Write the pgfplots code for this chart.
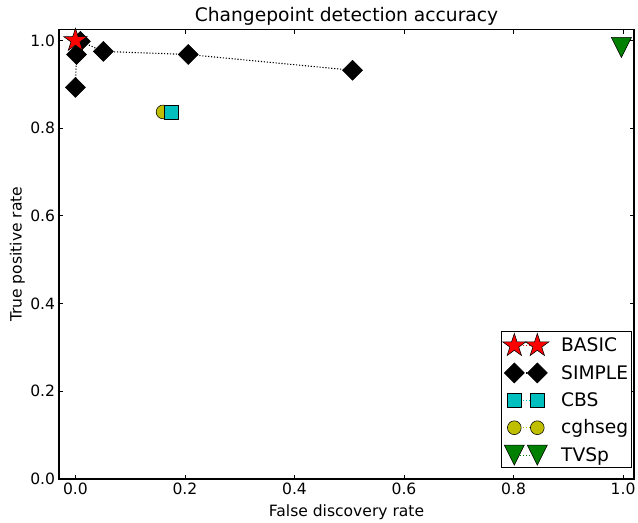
\documentclass[border=0pt]{standalone}
\usepackage{fontspec}
\setmainfont{DejaVu Sans}
\usepackage{pgfplots}
\pgfplotsset{compat=1.18}
\usetikzlibrary{plotmarks}
\definecolor{mplc}{rgb}{0,0.75,0.75}
\definecolor{mply}{rgb}{0.75,0.75,0}
\definecolor{mplg}{rgb}{0,0.5,0}
\pgfdeclareplotmark{fstar}{%
 \pgfpathmoveto{\pgfqpoint{0pt}{\pgfplotmarksize}}%
 \pgfpathlineto{\pgfqpoint{-0.2245\pgfplotmarksize}{0.309\pgfplotmarksize}}%
 \pgfpathlineto{\pgfqpoint{-0.951\pgfplotmarksize}{0.309\pgfplotmarksize}}%
 \pgfpathlineto{\pgfqpoint{-0.363\pgfplotmarksize}{-0.118\pgfplotmarksize}}%
 \pgfpathlineto{\pgfqpoint{-0.588\pgfplotmarksize}{-0.809\pgfplotmarksize}}%
 \pgfpathlineto{\pgfqpoint{0pt}{-0.382\pgfplotmarksize}}%
 \pgfpathlineto{\pgfqpoint{0.588\pgfplotmarksize}{-0.809\pgfplotmarksize}}%
 \pgfpathlineto{\pgfqpoint{0.363\pgfplotmarksize}{-0.118\pgfplotmarksize}}%
 \pgfpathlineto{\pgfqpoint{0.951\pgfplotmarksize}{0.309\pgfplotmarksize}}%
 \pgfpathlineto{\pgfqpoint{0.2245\pgfplotmarksize}{0.309\pgfplotmarksize}}%
 \pgfpathclose\pgfusepathqfillstroke}
\pgfdeclareplotmark{mdiamond}{%
 \pgfpathmoveto{\pgfqpoint{0pt}{\pgfplotmarksize}}%
 \pgfpathlineto{\pgfqpoint{\pgfplotmarksize}{0pt}}%
 \pgfpathlineto{\pgfqpoint{0pt}{-\pgfplotmarksize}}%
 \pgfpathlineto{\pgfqpoint{-\pgfplotmarksize}{0pt}}%
 \pgfpathclose\pgfusepathqfillstroke}
\pgfdeclareplotmark{tridown}{%
 \pgfpathmoveto{\pgfqpoint{0pt}{-\pgfplotmarksize}}%
 \pgfpathlineto{\pgfqpoint{\pgfplotmarksize}{\pgfplotmarksize}}%
 \pgfpathlineto{\pgfqpoint{-\pgfplotmarksize}{\pgfplotmarksize}}%
 \pgfpathclose\pgfusepathqfillstroke}
\pgfplotsset{
  mplline/.style={line width=1pt, dash pattern=on 1pt off 1.65pt},
  basicst/.style={mplline, color=red, mark=fstar, mark size=11pt, mark options={solid, draw=black, fill=red, line width=0.5pt}},
  simplest/.style={mplline, color=black, mark=mdiamond, mark size=9pt, mark options={solid, draw=black, fill=black, line width=0.5pt}},
  cbsst/.style={mplline, color=mplc, mark=square*, mark size=6.2pt, mark options={solid, draw=black, fill=mplc, line width=0.5pt}},
  cghst/.style={mplline, color=mply, mark=*, mark size=6.2pt, mark options={solid, draw=black, fill=mply, line width=0.5pt}},
  tvspst/.style={mplline, color=mplg, mark=tridown, mark size=9pt, mark options={solid, draw=black, fill=mplg, line width=0.5pt}},
}
\begin{document}
\begin{tikzpicture}
\useasboundingbox (-53.1pt,-39.6pt) rectangle (521.1pt,431.05pt);
\begin{axis}[
  at={(0,0)}, anchor=south west,
  scale only axis, width=517.5pt, height=404.5pt,
  xmin=-0.03, xmax=1.02, ymin=0, ymax=1.025,
  xtick={0,0.2,0.4,0.6,0.8,1.0}, ytick={0,0.2,0.4,0.6,0.8,1.0},
  tick align=inside, major tick length=4pt,
  every tick/.style={black, line width=0.8pt},
  axis line style={line width=1pt},
  ticklabel style={font=\fontsize{14}{16}\selectfont, /pgf/number format/.cd, fixed, fixed zerofill, precision=1},
  /pgf/number format/assume math mode=true,
  title={Changepoint detection accuracy},
  title style={font=\fontsize{16.8}{19}\selectfont, yshift=-5.5pt},
  xlabel={False discovery rate}, ylabel={True positive rate},
  label style={font=\fontsize{14}{16}\selectfont},
  xlabel style={yshift=-2.5pt},
  ylabel style={yshift=-2pt},
  legend style={at={(0.9965,0.0245)}, anchor=south east, draw=black, line width=0.9pt,
    font=\fontsize{16.8}{19}\selectfont, row sep=6.6pt, inner xsep=1pt, inner ysep=2pt,
    /tikz/every odd column/.append style={column sep=9pt}},
  legend cell align=left,
  legend image code/.code={\draw[#1] plot coordinates {(0pt,0pt) (20.7pt,0pt)};},
]
\addlegendimage{basicst}\addlegendentry{BASIC}
\addlegendimage{simplest}\addlegendentry{SIMPLE}
\addlegendimage{cbsst}\addlegendentry{CBS}
\addlegendimage{cghst}\addlegendentry{cghseg}
\addlegendimage{tvspst}\addlegendentry{TVSp}
\addplot[cghst, forget plot] coordinates {(0.160,0.837)};
\addplot[cbsst, forget plot] coordinates {(0.175,0.837)};
\addplot[simplest, forget plot] coordinates {(0.0,0.893) (0.002,0.968) (0.009,0.998) (0.051,0.975) (0.206,0.968) (0.506,0.932)};
\addplot[basicst, forget plot] coordinates {(0.0,1.0)};
\addplot[tvspst, forget plot] coordinates {(0.997,0.984)};
\end{axis}
\end{tikzpicture}
\end{document}
